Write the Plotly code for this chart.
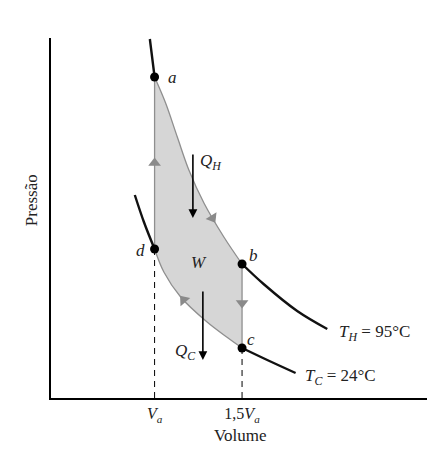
import plotly.graph_objects as go

# ---- data (volume in units of Va, pressure in arbitrary units)
hot_v = [0.973, 1.0, 1.063, 1.130, 1.196, 1.282, 1.396, 1.5, 1.623, 1.815, 1.987]
hot_p = [3.59, 3.21, 2.95, 2.61, 2.28, 1.95, 1.61, 1.34, 1.14, 0.87, 0.69]
cold_v = [0.887, 0.939, 1.0, 1.053, 1.149, 1.300, 1.42, 1.5, 1.644, 1.806]
cold_p = [2.03, 1.76, 1.49, 1.26, 1.01, 0.76, 0.60, 0.50, 0.38, 0.25]

state_names = ["a", "b", "c", "d"]
state_v = [1.0, 1.5, 1.5, 1.0]
state_p = [3.21, 1.34, 0.50, 1.49]

dir_v = [1.331, 1.5, 1.166, 1.0]
dir_p = [1.80, 0.95, 0.98, 2.35]
dir_angle = [149, 180, -40, 0]

tick_vals = [1.0, 1.5]
tick_text = ["<i>V<sub>a</sub></i>", "1,5<i>V<sub>a</sub></i>"]

A_I, B_I = 1, 7   # indices of a, b on hot isotherm
D_I, C_I = 2, 7   # indices of d, c on cold isotherm

SERIF = "Liberation Serif"
GRAY_LINE = "#8f8f8f"
FILL = "#d6d6d6"

fig = go.Figure()

# cycle: cold boundary d->c, then hot boundary a->b filled to it
fig.add_trace(go.Scatter(x=cold_v[D_I:C_I + 1], y=cold_p[D_I:C_I + 1], mode="lines",
                         line=dict(color=GRAY_LINE, width=1.3, shape="spline"),
                         hoverinfo="skip", showlegend=False))
fig.add_trace(go.Scatter(x=hot_v[A_I:B_I + 1], y=hot_p[A_I:B_I + 1], mode="lines",
                         fill="tonexty", fillcolor=FILL,
                         line=dict(color=GRAY_LINE, width=1.3, shape="spline"),
                         hoverinfo="skip", showlegend=False))
# isochoric sides
fig.add_trace(go.Scatter(x=[state_v[3], state_v[0]], y=[state_p[3], state_p[0]], mode="lines",
                         line=dict(color=GRAY_LINE, width=1.3), hoverinfo="skip", showlegend=False))
fig.add_trace(go.Scatter(x=[state_v[1], state_v[2]], y=[state_p[1], state_p[2]], mode="lines",
                         line=dict(color=GRAY_LINE, width=1.3), hoverinfo="skip", showlegend=False))

# dashed guides
fig.add_trace(go.Scatter(x=[state_v[3], state_v[3]], y=[0, state_p[3]], mode="lines",
                         line=dict(color="black", width=1, dash="6px,5px"), hoverinfo="skip", showlegend=False))
fig.add_trace(go.Scatter(x=[state_v[2], state_v[2]], y=[0, state_p[2]], mode="lines",
                         line=dict(color="black", width=1, dash="6px,5px"), hoverinfo="skip", showlegend=False))

# black isotherm extensions
for xs, ys in [(hot_v[:A_I + 1], hot_p[:A_I + 1]), (hot_v[B_I:], hot_p[B_I:]),
               (cold_v[:D_I + 1], cold_p[:D_I + 1]), (cold_v[C_I:], cold_p[C_I:])]:
    fig.add_trace(go.Scatter(x=xs, y=ys, mode="lines",
                             line=dict(color="#111111", width=2.4, shape="spline"),
                             hoverinfo="skip", showlegend=False))

# direction arrows
fig.add_trace(go.Scatter(x=dir_v, y=dir_p, mode="markers",
                         marker=dict(symbol="triangle-up", size=11, color="#8a8a8a", angle=dir_angle),
                         hoverinfo="skip", showlegend=False))

# state points
fig.add_trace(go.Scatter(x=state_v, y=state_p, mode="markers",
                         marker=dict(color="black", size=9), hoverinfo="skip", showlegend=False))

ann = []
lab_font = dict(family=SERIF, size=17, color="#222")
offsets = {"a": (1.103, 3.21), "b": (1.566, 1.43), "c": (1.549, 0.59), "d": (0.92, 1.48)}
for n in state_names:
    x, y = offsets[n]
    ann.append(dict(x=x, y=y, text=f"<i>{n}</i>", showarrow=False, font=lab_font))

ann.append(dict(x=1.251, y=1.36, text="<i>W</i>", showarrow=False, font=lab_font))
ann.append(dict(x=1.32, y=2.36, text="<i>Q<sub>H</sub></i>", showarrow=False, font=lab_font))
ann.append(dict(x=1.177, y=0.46, text="<i>Q<sub>C</sub></i>", showarrow=False, font=lab_font))
ann.append(dict(x=2.04, y=0.65, xanchor="left", text="<i>T<sub>H</sub></i> = 95°C",
                showarrow=False, font=lab_font))
ann.append(dict(x=1.85, y=0.21, xanchor="left", text="<i>T<sub>C</sub></i> = 24°C",
                showarrow=False, font=lab_font))

# heat arrows
ann.append(dict(x=1.219, y=1.80, ax=1.219, ay=2.45, axref="x", ayref="y", text="",
                showarrow=True, arrowhead=2, arrowsize=1.1, arrowwidth=1.6, arrowcolor="black"))
ann.append(dict(x=1.276, y=0.38, ax=1.276, ay=1.08, axref="x", ayref="y", text="",
                showarrow=True, arrowhead=2, arrowsize=1.1, arrowwidth=1.6, arrowcolor="black"))

# axis titles
ann.append(dict(x=0.505, y=-0.105, xref="paper", yref="paper", xanchor="center", yanchor="middle",
                text="Volume", showarrow=False,
                font=dict(family=SERIF, size=17, color="#222")))
ann.append(dict(x=-0.05, y=0.55, xref="paper", yref="paper", xanchor="center", yanchor="middle",
                text="Pressão", textangle=-90,
                showarrow=False, font=dict(family=SERIF, size=17, color="#222")))

# the page body adds an 8px offset, so the figure is sized to sit inside the window
fig.update_layout(
    width=429, height=443,
    margin=dict(l=43, r=10, t=30, b=53, autoexpand=False),
    paper_bgcolor="white", plot_bgcolor="white",
    annotations=ann,
    xaxis=dict(range=[0.408, 2.557], showgrid=False, zeroline=False, showline=True,
               linecolor="black", linewidth=2, tickvals=tick_vals, ticktext=tick_text,
               ticks="", tickfont=dict(family=SERIF, size=16, color="#222"), automargin=False),
    yaxis=dict(range=[0, 3.6], showgrid=False, zeroline=False, showline=True,
               linecolor="black", linewidth=2, showticklabels=False, ticks="", automargin=False),
)

fig.write_html("out.html")
